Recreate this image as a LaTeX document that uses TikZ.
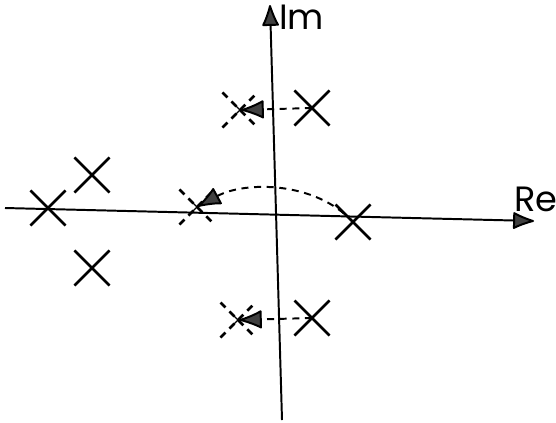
\documentclass[tikz,border=0pt]{standalone}
\usepackage{fontspec}
\setsansfont{Poppins}
\usetikzlibrary{shapes.misc,arrows.meta}

\begin{document}
\begin{tikzpicture}[x=0.025cm, y=-0.025cm]
	% Estilos
	\tikzset{
		axis/.style={line width=1.4pt, -{Latex[length=17pt,width=13pt,round,fill=black!75]}},
		pole/.style={cross out, draw, line width=1.9pt, minimum size=23pt, inner sep=0pt},
		oldpole/.style={pole, dash pattern=on 5pt off 4pt},
		move/.style={line width=1.4pt, dash pattern=on 5pt off 4pt, -{Latex[length=18pt,width=14pt,round,fill=black!75]}, shorten >=1pt},
		axislabel/.style={font=\sffamily\fontsize{25}{30}\selectfont}
	}
	\useasboundingbox (0,0) rectangle (556,422);

	% --- Ejes ---
	\coordinate (reL) at (5,208);
	\coordinate (reR) at (534,221);
	\coordinate (imB) at (282,420);
	\coordinate (imT) at (270,5);
	\draw[axis] (reL) -- (reR);
	\draw[axis] (imB) -- (imT);
	\node[axislabel, anchor=west, inner sep=0pt] (im) at (279,17) {Im};
	\node[axislabel, anchor=south, inner sep=0pt] (re) at (536,212) {Re};

	% --- Polos fijos ---
	\node[pole] (pa) at (48,208) {};
	\node[pole] (pb) at (92,175) {};
	\node[pole] (pc) at (92,268) {};

	% --- Polos que se mueven ---
	\node[pole] (p1) at (312,108) {};
	\node[pole] (p2) at (353,222) {};
	\node[pole] (p3) at (312,318) {};

	% --- Posiciones nuevas (punteadas) ---
	\node[oldpole] (q1) at (240,110) {};
	\node[oldpole] (q2) at (197,207) {};
	\node[oldpole] (q3) at (238,320) {};
	\foreach \q in {q1,q2,q3}
		\node[cross out, draw, line width=0.9pt, minimum size=6pt, inner sep=0pt] at (\q) {};

	% --- Desplazamientos ---
	\draw[move] (p1.center) -- (q1.center);
	\draw[move] (p2.center) .. controls (315,181) and (245,181) .. (q2.center);
	\draw[move] (p3.center) -- (q3.center);
\end{tikzpicture}
\end{document}
